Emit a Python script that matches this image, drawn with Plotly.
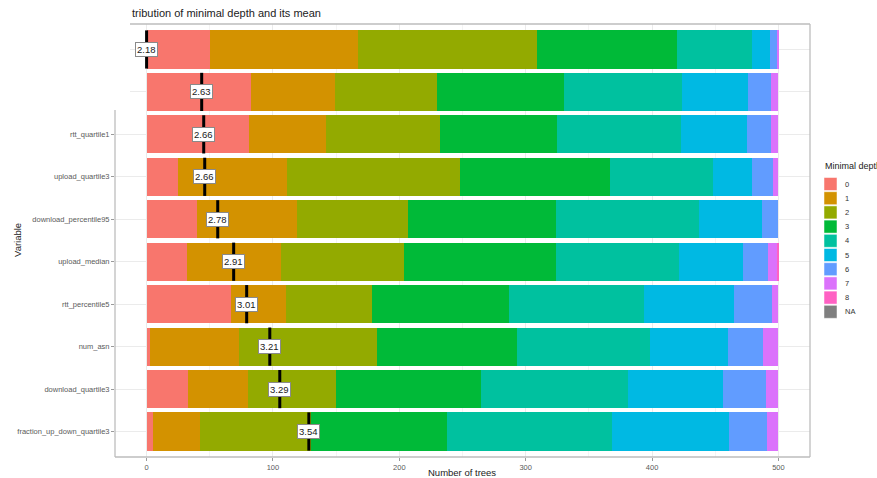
import plotly.graph_objects as go

# ---- data ----
row_labels = ["", "", "rtt_quartile1", "upload_quartile3", "download_percentile95",
              "upload_median", "rtt_percentile5", "num_asn", "download_quartile3",
              "fraction_up_down_quartile3"]
depth_levels = ["0", "1", "2", "3", "4", "5", "6", "7", "8", "NA"]
depth_colors = ["#F8766D", "#D39200", "#93AA00", "#00BA38", "#00C19F",
                "#00B9E3", "#619CFF", "#DB72FB", "#FF61C3", "#7F7F7F"]

depth_0 = [50, 83, 81, 25, 40, 32, 67, 3, 33, 5]
depth_1 = [117, 66, 61, 86, 79, 74, 43, 70, 47, 37]
depth_2 = [142, 81, 90, 137, 88, 98, 68, 109, 70, 88]
depth_3 = [111, 100, 93, 119, 117, 120, 109, 111, 115, 108]
depth_4 = [59, 94, 98, 81, 113, 97, 107, 105, 116, 130]
depth_5 = [14, 52, 52, 31, 50, 51, 71, 62, 75, 93]
depth_6 = [6, 18, 19, 17, 13, 20, 30, 28, 34, 30]
depth_7 = [1, 6, 6, 4, 0, 7, 5, 12, 10, 9]
depth_8 = [0, 0, 0, 0, 0, 1, 0, 0, 0, 0]
depth_counts = [depth_0, depth_1, depth_2, depth_3, depth_4,
                depth_5, depth_6, depth_7, depth_8]

mean_labels = ["2.18", "2.63", "2.66", "2.66", "2.78", "2.91", "3.01", "3.21", "3.29", "3.54"]
mean_pos = [0, 43.6, 45.2, 46.0, 56.3, 68.9, 79.2, 97.5, 105.4, 128.4]

x_ticks = [0, 100, 200, 300, 400, 500]

FONT = "Liberation Sans, Arial, sans-serif"
rows = list(range(len(row_labels)))

fig = go.Figure()
for lvl, col, counts in zip(depth_levels, depth_colors, depth_counts):
    fig.add_trace(go.Bar(
        y=rows, x=counts, orientation="h", name=lvl,
        marker=dict(color=col, line=dict(width=0)),
        width=0.9, showlegend=False, hoverinfo="x+name"))

# mean marker lines
lx, ly = [], []
for r, m in zip(rows, mean_pos):
    lx += [m, m, None]
    ly += [r - 0.45, r + 0.45, None]
fig.add_trace(go.Scatter(x=lx, y=ly, mode="lines",
                         line=dict(color="black", width=3),
                         showlegend=False, hoverinfo="skip"))

annotations = []
for r, m, t in zip(rows, mean_pos, mean_labels):
    annotations.append(dict(x=m, y=r, xref="x", yref="y", text=t, showarrow=False,
                            font=dict(family=FONT, size=9.5, color="#1a1a1a"),
                            bgcolor="white", bordercolor="#8a8a8a", borderwidth=1,
                            borderpad=1))

# pixel -> paper helpers (plot area 115..810 x, 24..457 y)
def px(xp):
    return (xp - 115) / 695.0

def py(yp):
    return (457 - yp) / 433.0

annotations.append(dict(x=px(130), y=py(13), xref="paper", yref="paper",
                        text="tribution of minimal depth and its mean", showarrow=False,
                        xanchor="left", yanchor="middle",
                        font=dict(family=FONT, size=11, color="#222")))
annotations.append(dict(x=px(462), y=py(473), xref="paper", yref="paper",
                        text="Number of trees", showarrow=False,
                        xanchor="center", yanchor="middle",
                        font=dict(family=FONT, size=9.5, color="#222")))
annotations.append(dict(x=px(18), y=py(240), xref="paper", yref="paper",
                        text="Variable", showarrow=False, textangle=-90,
                        xanchor="center", yanchor="middle",
                        font=dict(family=FONT, size=9.5, color="#222")))

shapes = []
# whiteout of top-left corner (as in the reference screenshot)
shapes.append(dict(type="rect", xref="paper", yref="paper", layer="above",
                   x0=px(60), x1=px(130), y0=py(110), y1=py(0),
                   fillcolor="white", line=dict(width=0)))
border = "#BDBDBD"
shapes.append(dict(type="line", xref="paper", yref="paper", x0=px(130), x1=1, y0=1, y1=1,
                   line=dict(color=border, width=1.3), layer="above"))
shapes.append(dict(type="line", xref="paper", yref="paper", x0=1, x1=1, y0=0, y1=1,
                   line=dict(color=border, width=1.3), layer="above"))
shapes.append(dict(type="line", xref="paper", yref="paper", x0=0, x1=1, y0=0, y1=0,
                   line=dict(color=border, width=1.3), layer="above"))
shapes.append(dict(type="line", xref="paper", yref="paper", x0=0, x1=0, y0=0, y1=py(110),
                   line=dict(color=border, width=1.3), layer="above"))

# manual legend
annotations.append(dict(x=px(823), y=py(166), xref="paper", yref="paper",
                        text="Minimal depth", showarrow=False, xanchor="left",
                        yanchor="middle", font=dict(family=FONT, size=9, color="#222")))
for i, (lvl, col) in enumerate(zip(depth_levels, depth_colors)):
    cy = 184 + 14.2 * i
    shapes.append(dict(type="rect", xref="paper", yref="paper",
                       x0=px(824), x1=px(837), y0=py(cy + 6.5), y1=py(cy - 6.5),
                       fillcolor=col, line=dict(color="white", width=0.5)))
    annotations.append(dict(x=px(843), y=py(cy), xref="paper", yref="paper",
                            text=lvl, showarrow=False, xanchor="left", yanchor="middle",
                            font=dict(family=FONT, size=7.5, color="#333")))

fig.update_layout(
    template="none",
    width=877, height=478,
    margin=dict(l=115, r=67, t=24, b=21, autoexpand=False),
    paper_bgcolor="white", plot_bgcolor="white",
    barmode="stack", bargap=0.1,
    showlegend=False,
    font=dict(family=FONT),
    annotations=annotations, shapes=shapes,
    xaxis=dict(range=[-25, 525], tickvals=x_ticks, showgrid=True,
               gridcolor="#EBEBEB", gridwidth=1, zeroline=False,
               ticks="outside", ticklen=3, tickcolor="#9a9a9a", automargin=False,
               tickfont=dict(family=FONT, size=7.5, color="#5a5a5a"),
               minor=dict(dtick=50, tick0=0, showgrid=True, gridcolor="#F4F4F4", gridwidth=0.6),
               showline=False),
    yaxis=dict(range=[9.6, -0.6], tickvals=rows, ticktext=row_labels,
               showgrid=True, gridcolor="#EBEBEB", gridwidth=1, zeroline=False,
               ticks="outside", ticklen=3, tickcolor="#9a9a9a", automargin=False,
               tickfont=dict(family=FONT, size=7.5, color="#5a5a5a"),
               showline=False),
)

fig.write_html("out.html")
